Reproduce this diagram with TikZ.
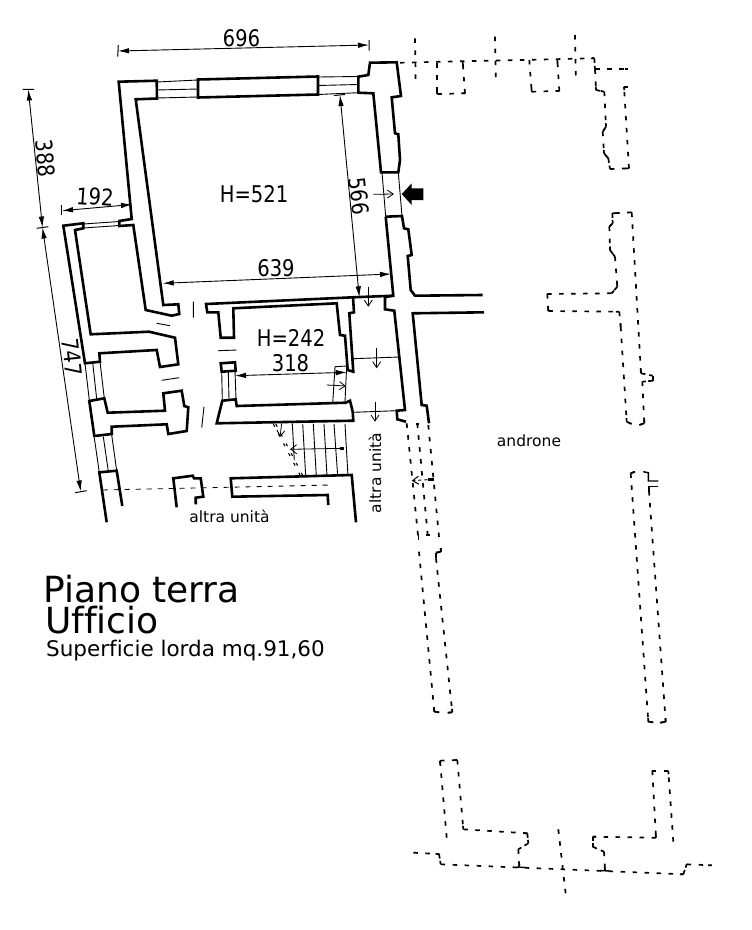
\documentclass[tikz,border=0pt]{standalone}
\usepackage{fontspec}
\setmainfont[Ligatures=CommonOff]{DejaVu Sans}
\usetikzlibrary{arrows.meta,calc}
\tikzset{
 wall/.style={line width=2.6pt,line join=miter},
 thin line/.style={line width=0.9pt},
 dimline/.style={line width=0.9pt,{Latex[length=11pt,width=5.5pt]}-{Latex[length=11pt,width=5.5pt]}},
 tick/.style={line width=1pt},
 openarrow/.style={line width=0.8pt,-{Straight Barb[length=6pt,width=8pt]}},
 ghost/.style={line width=1.7pt,dash pattern=on 4.5pt off 7.5pt},
 ghoststub/.style={line width=1.7pt},
 dimtext/.style={inner sep=0pt},
 smalltext/.style={font=\fontsize{15.5}{18}\selectfont,inner sep=0pt},
}
\newcommand{\dimnum}[1]{\scalebox{0.85}[1]{\fontsize{23}{26}\selectfont #1}}
% dashed path: every edge begins and ends with a dash, so corners read as solid
\newcommand{\gpath}[1]{%
 \foreach \x/\y [count=\i, remember=\x as \px (initially 0), remember=\y as \py (initially 0)] in {#1}{%
  \ifnum\i>1
   \draw[ghost] (\px,\py) -- (\x,\y);
   \draw[ghoststub] (\x,\y) -- ($(\x,\y)!3.5pt!(\px,\py)$);
  \fi
 }}
\begin{document}
\begin{tikzpicture}[x=1pt,y=-1pt]
\useasboundingbox (0,0) rectangle (752,930);
% main room
\draw[wall] (157,98.5) -- (135.7,99.3) -- (163.3,305) -- (178.3,304.3) -- (179.3,314) -- (171.7,315.7) -- (145.7,310) -- (133.3,225) -- (119.3,226) -- (119.3,221) -- (131.7,219) -- (118.7,81.7) -- (156.7,80.7) -- cycle;
\draw[wall] (198,79.5) -- (318,76.5) -- (318,94.5) -- (198,97.5) -- cycle;
\draw[thin line] (157,82) -- (198,80) (157,90) -- (198,89) (157,98) -- (198,97);
\draw[thin line] (318,77) -- (358,76.5) (318,85.5) -- (358,84.5) (318,94.5) -- (358,92.7);
\draw[wall] (358.3,76.7) -- (368.3,75) -- (370,62.7) -- (396.7,62.3) -- (401,96) -- (391.7,97.3) -- (395,133.3) -- (398.3,134.3) -- (400,160) -- (398.3,172.3) -- (381,172.3) -- (373.3,93.3) -- (358.3,92.7) -- cycle;
\draw[thin line] (382,172.3) -- (385.7,216.7) (398.3,172.3) -- (402,216);
\draw[wall] (385.7,216.7) -- (402,216) -- (404,228.3) -- (408.3,229.3) -- (411.7,255) -- (407.7,256) -- (410.7,290) -- (415,295.7) -- (482.7,295);
\draw[wall] (385.7,216.7) -- (393.3,295.7) -- (353,297.3) -- (206,304) -- (207.3,312.3) -- (218.3,312.3) -- (220.7,337.7) -- (234,337.7) -- (233.3,308.3) -- (336.7,303.3) -- (340,335) -- (345,335.7) -- (347.7,370) -- (353.3,371.7) -- (349.3,313.3) -- (354,312.3) -- (353,297.3);
\draw[wall] (393.3,295.7) -- (385,297) -- (385,309.3) -- (394.3,310.7) -- (405,410) -- (396.7,410.7) -- (397.3,419.3) -- (406,421.7);
\draw[wall] (484,312.3) -- (412.7,313.3) -- (421.7,405) -- (426.7,405.7) -- (429,423.3);
% wing
\draw[wall] (83.3,223.3) -- (63.3,225.7) -- (85,363.3) -- (100,361.7) -- (99.3,353.3) -- (156.7,350) -- (160,367) -- (178.3,364.3) -- (175,337.7) -- (149,331.7) -- (90.7,334.3) -- (75,230) -- (83.3,228.3) -- cycle;
\draw[thin line] (83.3,224) -- (119.3,221.5) (83.3,228) -- (119.3,225.5) ;
\draw[thin line] (85,363.3) -- (89.3,400) (92.7,362.7) -- (96.7,399) (100,361.7) -- (104.3,398.3);
\draw[wall] (104.3,398.3) -- (89.3,401) -- (94.3,436) -- (111.7,434) -- (111.7,426.7) -- (166.7,424.3) -- (168.3,434) -- (186.7,431) -- (188.3,407.3) -- (184.3,406) -- (181.7,390.7) -- (163.3,393.3) -- (165,410.7) -- (107.7,412.7) -- cycle;
\draw[thin line] (94.3,437.7) -- (99.3,472.3) (103.3,436.7) -- (108.3,471) (111.7,435) -- (116.7,470.7);
\draw[wall] (106.7,522.3) -- (99.3,472.3) -- (116.7,470.7) -- (122.3,506);
% lower walls
\draw[wall] (176.7,507.3) -- (173.3,478.3) -- (192.7,475.7) -- (194,478.3) -- (200.7,478.3) -- (203.3,496.7) -- (195.7,497.7) -- (195.7,504.3);
\draw[wall] (328.3,505) -- (327.7,495) -- (232.3,496.7) -- (230.7,478.3) -- (351.7,475) -- (356,522.3);
\draw[thin line,dash pattern=on 5pt off 6pt] (102.7,490) -- (330,485);
% thin ticks at doors
\draw[thin line] (193.3,301.7) -- (193.3,317.7) (156.7,323.3) -- (170,325.7) (161.7,380.3) -- (179.3,377.7) (204,406.7) -- (201.7,427.7) (218.3,350.7) -- (236.7,350);
% column + small room bottom
\draw[wall] (220.7,363.3) -- (235,362.3) -- (235.7,370.7) -- (221.7,371.7) -- cycle;
\draw[thin line] (221.7,371.7) -- (222.3,399) (228.3,371.7) -- (229,399) (235,371) -- (236,399);
\draw[wall] (235.7,399.3) -- (222.3,400.7) -- (216.7,423.3) -- (353.3,420.7) -- (352.7,411.7) -- (350,400.7) -- (345.7,402.7) -- (236.7,406) -- cycle;
\draw[thin line] (335,366.7) -- (332.7,403.3) (335,366.7) -- (346.7,366) -- (345,401.7);
\draw[thin line] (353.3,358.7) -- (399,357) (353.3,412.3) -- (396.7,410.7);
% stairs
\foreach \a/\b in {302.7/305.7,313.3/316.3,324/327,334/337.7,345/348}{\draw[thin line] (\a,424) -- (\b,476);}
\draw[thin line] (292.3,423.3) -- (294.3,460);
\draw[openarrow] (281.7,423.3) -- (280,437);
\draw[line width=1.1pt,dash pattern=on 3pt off 8pt] (273.3,424) -- (300,475) (275.8,424) -- (302.5,475);
\draw[line width=0.8pt,-{Straight Barb[length=6pt,width=9pt]}] (343.3,448.3) -- (290,449.3);
\fill (340,447) rectangle (344,450);
% arrows
\draw[openarrow] (326.7,385) -- (346,386);
\draw[openarrow] (368.3,286.7) -- (368.3,306.7);
\draw[openarrow] (376.7,347.7) -- (376.7,368.3);
\draw[openarrow] (375,401.7) -- (375,421.7);
\draw[openarrow] (373.3,194.3) -- (394,194);
\fill (401.7,194) -- (411.7,183.3) -- (411.7,188.3) -- (423.3,188.3) -- (423.3,200) -- (411.7,200) -- (411.7,205) -- cycle;
% dimension lines
\coordinate (a1) at (118,51); \coordinate (a2) at (369,45);
\draw[dimline] (a1) -- (a2);
\draw[tick] (118.3,45) -- (117.7,56.7) (369,40) -- (369,50.7);
\coordinate (b1) at (28.3,89.5); \coordinate (b2) at (42.5,227.5); \coordinate (b3) at (80.7,491.5);
\draw[dimline] (b1) -- (b2);
\draw[dimline] (b2) -- (b3);
\draw[tick] (22.7,89.3) -- (34,89.3) (36.7,228.3) -- (48.3,226.7) (75,492.7) -- (86.7,490.7);
\coordinate (c1) at (62,210.7); \coordinate (c2) at (132,204.5);
\draw[dimline] (c1) -- (c2);
\draw[tick] (61.7,205) -- (61.7,215);
\coordinate (d1) at (340,95); \coordinate (d2) at (359.3,297.3);
\draw[dimline] (d1) -- (d2);
\draw[tick] (334,95.5) -- (345,94.5);
\coordinate (e1) at (162.7,283.3); \coordinate (e2) at (391,274);
\draw[dimline] (e1) -- (e2);
\coordinate (f1) at (235,375.7); \coordinate (f2) at (346.7,372.3);
\draw[dimline] (f1) -- (f2);
% ghost (dashed) parts
\gpath{400/62.7,594.3/58.3,595/69.3,628.3/69.3}
\draw[ghost] (415,38.3) -- (415.7,85);
\draw[ghost] (495,36.7) -- (496,83.3);
\draw[ghost] (575,35) -- (576,81.7);
\gpath{437.3/63,437.3/94,465/93.3,462.7/61.7}
\gpath{529.3/60,531.7/91.7,559.3/91,557.3/59.3}
\gpath{595/69.3,596/90,604.3/91.7,606/126.7,602.7/131.7,604/153.3,608.3/158.3,610/169,629/168.3,624/86.7,627.7/86.7}
\gpath{631.7/212.3,612.3/213.3,612.7/223.3,609.3/226.7,610/250,615/256.7,617.3/286.7,611.7/293.3,547.3/294,548.3/311,619.3/311.7,620.7/326.7,626.7/421.7,631.7/424}
\gpath{631.7/212.3,641/373.3,652.7/375.7,652.7/380.7,642.3/381.7,644.3/423.3,639.3/425}
\draw[ghost] (406.7,423.3) -- (418.3,538.3);
\draw[ghost] (417.3,423.3) -- (427.7,535);
\draw[ghost] (428.3,425) -- (439.3,540);
\draw[line width=1.4pt] (415.5,424) -- (419,424) (426,535) -- (430,535) (418.3,534) -- (418.3,540);
\gpath{419/551.7,434.3/711.7,439.3/712.3}
\gpath{440.7/548.3,441/551.7,436/552.7,436/558.3,452.3/712.3,447.7/712.7}
\draw[line width=1pt,dash pattern=on 3pt off 3pt,-{Straight Barb[length=6pt,width=8pt]}] (433.3,479.3) -- (411.7,480.7);
\fill (428,478) rectangle (434,481);
\draw[line width=1.4pt] (643.3,471.7) -- (648.3,472.7) -- (648.3,481) -- (658.3,481);
\draw[line width=1.4pt] (658.3,486.7) -- (649,486.7) -- (649,491);
\gpath{635/471.7,630.7/473.3,648.3/721.7,653.3/722.3}
\gpath{649/491,665.7/721.7,660/722.7}
\gpath{446.7/837.7,440/760.7,457.3/760,463.3/829.3,527.3/833.3,528.3/843.3,518.3/849.3,519.3/866.7}
\draw[line width=1.4pt] (516.5,867) -- (525,867.5) (600,870.5) -- (609.5,871);
\gpath{413.3/852.7,439/854,440.7/864.3,683.3/874.3,686.7/864.3,711.7/865.3}
\draw[ghost] (558.3,829.3) -- (565.7,894);
\gpath{673.3/841.7,668.3/770.7,652.3/770.7,656/837.7,592.7/836.7,592.7/846.7,604/851.7,605/870.7}
% labels
\node[dimtext,rotate=-1] (t1) at (241.5,38) {\dimnum{696}};
\node[dimtext] (t2) at (254,194) {\dimnum{H=521}};
\node[dimtext,rotate=-84] (t3) at (45.5,158.5) {\dimnum{388}};
\node[dimtext,rotate=-4] (t4) at (95,197) {\dimnum{192}};
\node[dimtext,rotate=-84] (t5) at (359,196) {\dimnum{566}};
\node[dimtext] (t6) at (276,268.5) {\dimnum{639}};
\node[dimtext] (t7) at (291,338) {\dimnum{H=242}};
\node[dimtext] (t8) at (290.5,363.5) {\dimnum{318}};
\node[dimtext,rotate=-84] (t9) at (72,357) {\dimnum{747}};
\node[smalltext] (t10) at (229.5,516) {altra unità};
\node[smalltext,rotate=90] (t11) at (375,473) {altra unità};
\node[smalltext] (t12) at (529,441) {androne};
\node[inner sep=0pt,anchor=base west,font=\fontsize{36}{38}\selectfont] (t13) at (43,602) {Piano terra};
\node[inner sep=0pt,anchor=base west,font=\fontsize{36}{38}\selectfont] (t14) at (45,633) {Ufficio};
\node[inner sep=0pt,anchor=base west,font=\fontsize{21.5}{24}\selectfont] (t15) at (46,656) {Superficie lorda mq.91,60};
\end{tikzpicture}
\end{document}
